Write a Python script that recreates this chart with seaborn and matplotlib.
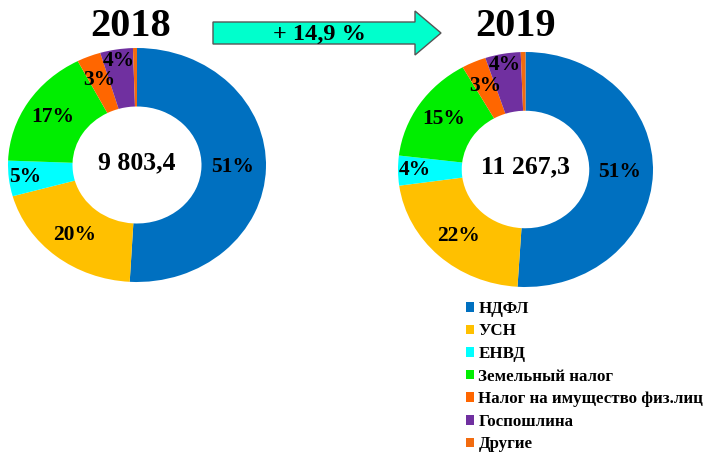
import numpy as np
import matplotlib
matplotlib.use("Agg")
import matplotlib.pyplot as plt
from matplotlib.patches import Polygon, Patch
import seaborn as sns

# data
categories = ["НДФЛ", "УСН", "ЕНВД", "Земельный налог",
              "Налог на имущество физ.лиц", "Госпошлина", "Другие"]
shares_2018 = [50.9, 19.8, 4.9, 16.8, 3.0, 4.1, 0.5]
shares_2019 = [51.0, 21.8, 4.1, 14.9, 3.1, 4.5, 0.6]
totals = ["9 803,4", "11 267,3"]
years = ["2018", "2019"]
growth = "+ 14,9 %"

colors = ["#0070C0", "#FFC000", "#00FFFF", "#00EE00", "#FF6600", "#7030A0", "#F26B0F"]

sns.set_theme(style="white")
plt.rcParams["font.family"] = ["Liberation Serif", "DejaVu Serif"]
plt.rcParams["font.weight"] = "bold"
plt.rcParams["text.color"] = "black"

fig = plt.figure(figsize=(7.17, 4.53), dpi=100)
W, H = 717, 453

# label radius per slice (small slices pushed outward), None = no label
label_r = [0.74, 0.77, 0.87, 0.77, 0.78, 0.9, None]


def donut(box, shares, total):
    left, top, right, bottom = box
    ax = fig.add_axes([left / W, 1 - bottom / H, (right - left) / W, (bottom - top) / H])
    wedges, _ = ax.pie(shares, colors=colors, startangle=90, counterclock=False,
                       radius=1, wedgeprops=dict(width=0.5, linewidth=0))
    for w, v, r in zip(wedges, shares, label_r):
        if r is None:
            continue
        ang = np.deg2rad((w.theta1 + w.theta2) / 2)
        ax.text(r * np.cos(ang), r * np.sin(ang), f"{round(v)}%", ha="center", va="center",
                fontsize=15.5, fontweight="bold", color="black")
    ax.text(0, 0.02, total, ha="center", va="center", fontsize=18.5, fontweight="bold",
            color="black")
    ax.set_xlim(-1, 1)
    ax.set_ylim(-1, 1)
    ax.set_aspect("auto")
    ax.axis("off")
    return ax


donut((8, 48, 266, 282), shares_2018, totals[0])
donut((398, 52, 653, 287), shares_2019, totals[1])

# overlay for titles and arrow (pixel coordinates)
ov = fig.add_axes([0, 0, 1, 1], zorder=5)
ov.set_xlim(0, W)
ov.set_ylim(H, 0)
ov.axis("off")
ov.patch.set_alpha(0)

ov.text(131, 26, years[0], ha="center", va="center", fontsize=29, fontweight="bold")
ov.text(516, 27, years[1], ha="center", va="center", fontsize=29, fontweight="bold")

arrow = Polygon([(213, 22), (415, 22), (415, 11), (441, 33), (415, 55), (415, 44), (213, 44)],
                closed=True, facecolor="#00FFCC", edgecolor="#555555", linewidth=1)
ov.add_patch(arrow)
ov.text(319, 34, growth, ha="center", va="center", fontsize=17.5, fontweight="bold")

handles = [Patch(facecolor=c, edgecolor="none") for c in colors]
leg = fig.legend(handles, categories, loc="upper left", bbox_to_anchor=(459 / W, 1 - 294 / H),
                 frameon=False, handlelength=0.5, handleheight=0.5,
                 handletextpad=0.25, labelspacing=0.39, borderaxespad=0,
                 prop=dict(family="Liberation Serif", weight="bold", size=12.2))
for t in leg.get_texts():
    t.set_color("black")

fig.savefig("out.png", dpi=100, facecolor="white")
